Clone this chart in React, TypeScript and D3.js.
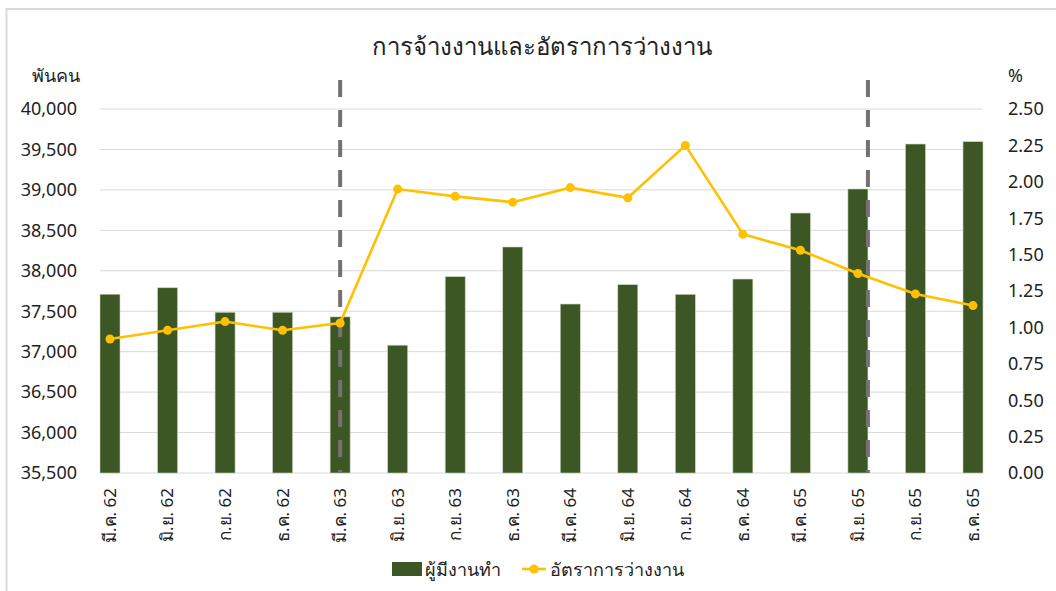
import React from "react";
import * as d3 from "d3";

const categories = [
  "มี.ค. 62", "มิ.ย. 62", "ก.ย. 62", "ธ.ค. 62",
  "มี.ค. 63", "มิ.ย. 63", "ก.ย. 63", "ธ.ค. 63",
  "มี.ค. 64", "มิ.ย. 64", "ก.ย. 64", "ธ.ค. 64",
  "มี.ค. 65", "มิ.ย. 65", "ก.ย. 65", "ธ.ค. 65",
];
const employed = [
  37710, 37790, 37487, 37487, 37430, 37080, 37927, 38294,
  37589, 37828, 37709, 37898, 38714, 39011, 39567, 39596,
];
const unemploymentRate = [
  0.92, 0.98, 1.04, 0.98, 1.03, 1.95, 1.90, 1.86,
  1.96, 1.89, 2.25, 1.64, 1.53, 1.37, 1.23, 1.15,
];
const leftTicks = [35500, 36000, 36500, 37000, 37500, 38000, 38500, 39000, 39500, 40000];
const rightTicks = [0, 0.25, 0.5, 0.75, 1, 1.25, 1.5, 1.75, 2, 2.25, 2.5];
const dividerCategories = ["มี.ค. 63", "มิ.ย. 65"];
const dividerOffsets = [0, 0.5];

const title = "การจ้างงานและอัตราการว่างงาน";
const leftUnit = "พันคน";
const rightUnit = "%";
const barName = "ผู้มีงานทำ";
const lineName = "อัตราการว่างงาน";

const FONT = "'Noto Sans', 'DejaVu Sans', sans-serif";
const BAR = "#3c5724";
const LINE = "#ffc000";
const TEXT = "#222";

export default function App() {
  const W = 1056, H = 591;
  const plotL = 100, plotR = 983, plotT = 109, plotB = 473;
  const barW = 20;

  const x = d3.scalePoint<string>().domain(categories).range([plotL + barW / 2, plotR - barW / 2]);
  const yL = d3.scaleLinear().domain([35500, 40000]).range([plotB, plotT]);
  const yR = d3.scaleLinear().domain([0, 2.5]).range([plotB, plotT]);

  const fmtL = d3.format(",");
  const fmtR = d3.format(".2f");

  const line = d3.line<number>()
    .x((_, i) => x(categories[i]) as number)
    .y((d) => yR(d));

  return (
    <svg width={W} height={H} style={{ position: "absolute", left: 0, top: 0, fontFamily: FONT }}>
      <rect x={0} y={0} width={W} height={H} fill="#fff" />
      <rect x={6.5} y={9} width={W} height={H} fill="none" stroke="#d9d9d9" strokeWidth={2} />
      <text x={542} y={55} textAnchor="middle" fontSize={24} fill={TEXT}>{title}</text>

      {leftTicks.map((t) => (
        <line key={"g" + t} x1={plotL} x2={plotR} y1={yL(t)} y2={yL(t)} stroke="#d9d9d9" strokeWidth={1} />
      ))}

      {categories.map((c, i) => (
        <rect key={"b" + c} x={(x(c) as number) - barW / 2} y={yL(employed[i])} width={barW}
          height={plotB - yL(employed[i])} fill={BAR} stroke="#c9d3bf" strokeWidth={0.6} />
      ))}

      {dividerCategories.map((c, i) => {
        const xx = (x(c) as number) + dividerOffsets[i] * barW;
        return <line key={"d" + c} x1={xx} x2={xx} y1={80} y2={plotB} stroke="#767171" strokeWidth={4} strokeDasharray="17 13" />;
      })}

      <path d={line(unemploymentRate) || ""} fill="none" stroke={LINE} strokeWidth={2.6} />
      {unemploymentRate.map((v, i) => (
        <circle key={"m" + i} cx={x(categories[i]) as number} cy={yR(v)} r={4.5} fill={LINE} />
      ))}

      {leftTicks.map((t) => (
        <text key={"l" + t} x={77} y={yL(t)} dy="0.35em" textAnchor="end" fontSize={18} fill={TEXT}>{fmtL(t)}</text>
      ))}
      {rightTicks.map((t) => (
        <text key={"r" + t} x={1008} y={yR(t)} dy="0.35em" textAnchor="start" fontSize={18} fill={TEXT}>{fmtR(t)}</text>
      ))}
      <text x={80} y={82} textAnchor="end" fontSize={18} fill={TEXT}>{leftUnit}</text>
      <text x={1008} y={82} textAnchor="start" fontSize={18} fill={TEXT}>{rightUnit}</text>

      {categories.map((c) => (
        <text key={"x" + c} transform={`translate(${x(c)},488) rotate(-90)`} dy="0.35em" textAnchor="end" fontSize={17} fill={TEXT}>{c}</text>
      ))}

      <rect x={392} y={562} width={30} height={14} fill={BAR} />
      <text x={425} y={576} fontSize={18} fill={TEXT}>{barName}</text>
      <line x1={522} x2={546} y1={569} y2={569} stroke={LINE} strokeWidth={2.6} />
      <circle cx={534} cy={569} r={4.5} fill={LINE} />
      <text x={550} y={576} fontSize={18} fill={TEXT}>{lineName}</text>
    </svg>
  );
}
